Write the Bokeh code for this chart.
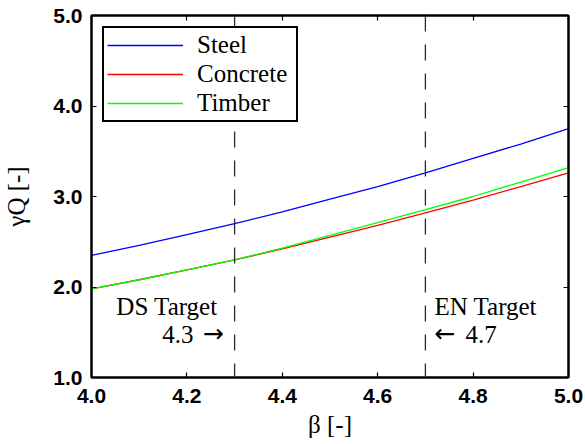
from bokeh.plotting import figure
from bokeh.models import (Range1d, LinearAxis, FixedTicker, Span, Label, Legend,
                          LegendItem, PrintfTickFormatter)
from bokeh.embed import file_html
from bokeh.resources import INLINE

# ---- data ----
beta = [4.0, 4.1, 4.2, 4.3, 4.4, 4.5, 4.6, 4.7, 4.8, 4.9, 5.0]
steel = [2.35, 2.46, 2.58, 2.70, 2.83, 2.97, 3.11, 3.26, 3.42, 3.58, 3.75]
concrete = [1.98, 2.08, 2.19, 2.30, 2.42, 2.55, 2.68, 2.82, 2.96, 3.11, 3.26]
timber = [1.98, 2.08, 2.19, 2.30, 2.43, 2.57, 2.71, 2.855, 3.00, 3.16, 3.32]
series_names = ["Steel", "Concrete", "Timber"]
series_colors = ["#0000ff", "#ff0000", "#00ff00"]
x_ticks = [4.0, 4.2, 4.4, 4.6, 4.8, 5.0]
y_ticks = [1.0, 2.0, 3.0, 4.0, 5.0]
targets = [4.3, 4.7]
target_names = ["DS Target", "EN Target"]
x_label = "β [-]"
y_label = "γQ [-]"

SERIF = "Liberation Serif"
SANS = "Liberation Sans"

p = figure(width=585, height=444, output_backend="svg", toolbar_location=None,
           x_range=Range1d(4.0, 5.0), y_range=Range1d(1.0, 5.0),
           frame_width=477, frame_height=362,
           min_border_left=91, min_border_right=17, min_border_top=15, min_border_bottom=67)
p.grid.visible = False
p.outline_line_color = "black"
p.outline_line_width = 2
p.background_fill_color = "white"
p.border_fill_color = "white"

def style_axis(ax, labels=True):
    ax.axis_line_color = "black"
    ax.axis_line_width = 2
    ax.major_tick_in = 5
    ax.major_tick_out = 0
    ax.major_tick_line_width = 1.2
    ax.major_tick_line_color = "black"
    ax.minor_tick_line_color = None
    ax.major_label_text_font = SANS
    ax.major_label_text_font_style = "bold"
    ax.major_label_text_font_size = "21px"
    ax.major_label_text_color = "black" if labels else None

p.xaxis.ticker = FixedTicker(ticks=x_ticks)
p.yaxis.ticker = FixedTicker(ticks=y_ticks)
p.xaxis.formatter = PrintfTickFormatter(format="%.1f")
p.yaxis.formatter = PrintfTickFormatter(format="%.1f")
style_axis(p.xaxis[0])
style_axis(p.yaxis[0])
p.xaxis.major_label_standoff = 11
p.yaxis.major_label_standoff = 9

for ax, lab, so in ((p.xaxis, x_label, 5), (p.yaxis, y_label, 20)):
    ax.axis_label = lab
    ax.axis_label_text_font = SERIF
    ax.axis_label_text_font_style = "normal"
    ax.axis_label_text_font_size = "25px"
    ax.axis_label_text_color = "black"
    ax.axis_label_standoff = so

top = LinearAxis(ticker=FixedTicker(ticks=x_ticks))
right = LinearAxis(ticker=FixedTicker(ticks=y_ticks))
style_axis(top, labels=False)
style_axis(right, labels=False)
top.major_label_text_font_size = "0px"
right.major_label_text_font_size = "0px"
top.major_label_standoff = 0
right.major_label_standoff = 0
p.add_layout(top, "above")
p.add_layout(right, "right")

# target lines
for t in targets:
    p.add_layout(Span(location=t, dimension="height", line_color="#2a2a2a",
                      line_width=1.3, line_dash="16 13"))

# series
renderers = []
for vals, col in zip([steel, concrete, timber], series_colors):
    r = p.line(beta, vals, line_color=col, line_width=1.3)
    renderers.append(r)

legend = Legend(items=[LegendItem(label=n, renderers=[r]) for n, r in zip(series_names, renderers)],
                location=(11, 255), border_line_color="black", border_line_width=2.5,
                border_line_alpha=1.0,
                background_fill_color="white", background_fill_alpha=1.0,
                padding=3, spacing=1, margin=0, glyph_width=76, glyph_height=26,
                label_standoff=14, label_width=96, label_height=26,
                label_text_font=SERIF, label_text_font_size="25px", label_text_color="black")
p.add_layout(legend, "center")

# target annotations
ann_kw = dict(text_font=SERIF, text_font_size="25px", text_color="black",
              text_baseline="alphabetic", y_units="screen")
arr_kw = dict(text_font="DejaVu Sans", text_font_size="25px", text_color="black",
              text_baseline="alphabetic", y_units="screen")
p.add_layout(Label(x=targets[0], y=71, x_offset=-17, text=target_names[0], text_align="right", **ann_kw))
p.add_layout(Label(x=targets[0], y=43, x_offset=-41, text="%.1f" % targets[0], text_align="right", **ann_kw))
p.add_layout(Label(x=targets[0], y=44, x_offset=-11, text="→", text_align="right", **arr_kw))
p.add_layout(Label(x=targets[1], y=71, x_offset=9, text=target_names[1], text_align="left", **ann_kw))
p.add_layout(Label(x=targets[1], y=44, x_offset=9, text="←", text_align="left", **arr_kw))
p.add_layout(Label(x=targets[1], y=43, x_offset=40, text="%.1f" % targets[1], text_align="left", **ann_kw))

open("out.html", "w").write(file_html(p, INLINE))
